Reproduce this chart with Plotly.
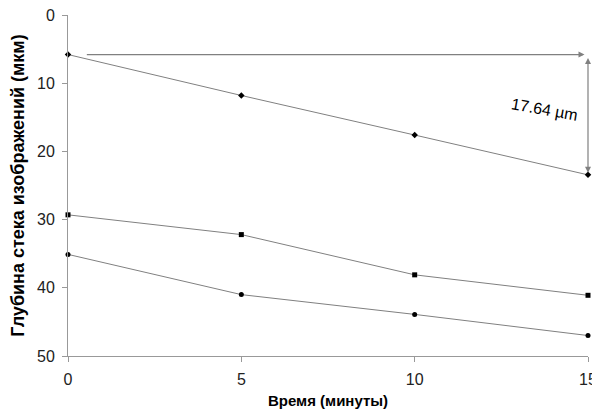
import plotly.graph_objects as go

time_min = [0, 5, 10, 15]
series_top = [5.8, 11.8, 17.6, 23.44]
series_mid = [29.3, 32.2, 38.1, 41.1]
series_bot = [35.1, 41.0, 43.9, 47.0]
diff_label = "17.64 µm"

FONT = "Liberation Sans, Arial, sans-serif"

fig = go.Figure()
line_style = dict(color="#808080", width=1)
fig.add_trace(go.Scatter(x=time_min, y=series_top, mode="lines+markers", cliponaxis=False,
                         line=line_style, marker=dict(symbol="diamond", size=5, color="black")))
fig.add_trace(go.Scatter(x=time_min, y=series_mid, mode="lines+markers", cliponaxis=False,
                         line=line_style, marker=dict(symbol="square", size=5, color="black")))
fig.add_trace(go.Scatter(x=time_min, y=series_bot, mode="lines+markers", cliponaxis=False,
                         line=line_style, marker=dict(symbol="circle", size=5, color="black")))

# horizontal arrow
fig.add_annotation(x=14.9, y=series_top[0], ax=0.5, ay=series_top[0],
                   xref="x", yref="y", axref="x", ayref="y",
                   showarrow=True, arrowhead=2, arrowsize=1, arrowwidth=1.2,
                   arrowcolor="#808080", text="")
# vertical double arrow
fig.add_annotation(x=15, y=series_top[-1] - 0.3, ax=15, ay=series_top[0] + 0.3,
                   xref="x", yref="y", axref="x", ayref="y",
                   showarrow=True, arrowhead=2, startarrowhead=2, arrowside="end+start",
                   arrowsize=1, arrowwidth=1.2, arrowcolor="#808080", text="")
fig.add_annotation(x=13.75, y=13.9, xref="x", yref="y", text=diff_label, showarrow=False,
                   textangle=10, font=dict(family=FONT, size=16, color="black"))

axis_common = dict(showgrid=False, zeroline=False, showline=True, linecolor="#999999",
                   linewidth=1, ticks="outside", ticklen=5, tickcolor="#999999",
                   automargin=False, ticklabelstandoff=4, ticklabeloverflow="allow",
                   tickfont=dict(family=FONT, size=16, color="#222222"))
fig.update_xaxes(range=[0, 15], tickvals=[0, 5, 10, 15], **axis_common,
                 title=dict(text="<b>Время (минуты)</b>", standoff=8,
                            font=dict(family=FONT, size=15, color="black")))
fig.update_yaxes(range=[50, 0], tickvals=[0, 10, 20, 30, 40, 50], **axis_common,
                 title=dict(text="<b>Глубина стека изображений (мкм)</b>", standoff=15,
                            font=dict(family=FONT, size=18, color="black")))

# page body has an 8px offset; margins compensate so the plot area lines up
fig.update_layout(width=600, height=403, showlegend=False,
                  plot_bgcolor="white", paper_bgcolor="white",
                  margin=dict(l=60, r=20, t=7, b=55))
fig.write_html("out.html")
